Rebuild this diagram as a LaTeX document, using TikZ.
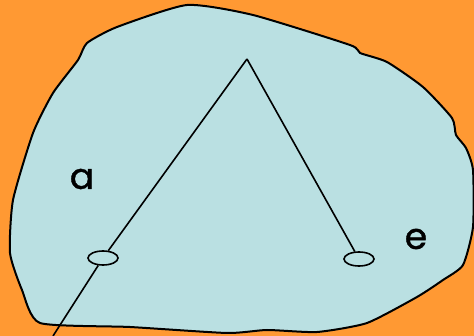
\documentclass[tikz,border=0pt]{standalone}
\usepackage{fontspec}
\newfontfamily\handfont{Poppins}[UprightFeatures={FakeBold=1.2}]
\usetikzlibrary{shapes.geometric}
\definecolor{bgorange}{RGB}{255,153,51}
\definecolor{blobblue}{RGB}{186,224,226}

\begin{document}
\begin{tikzpicture}[x=1pt,y=-1pt,line width=1.6pt,
  hole/.style={draw,ellipse,minimum width=30pt,minimum height=14pt,inner sep=0pt},
  lbl/.style={font=\handfont\fontsize{36}{36}\selectfont,inner sep=0pt}]
\fill[bgorange] (0,0) rectangle (474,336);
\useasboundingbox (0,0) rectangle (474,336);
\clip (0,0) rectangle (474,336);
\filldraw[fill=blobblue,line width=2pt] plot[smooth cycle,tension=0.35] coordinates {
  (40,323) (22,290) (10,253) (13,200) (33,133) (53,93) (78,60) (87,43)
  (117,27) (187,5) (253,15) (350,45) (360,53) (387,62) (423,87) (452,118)
  (456,135) (466,148) (473,170) (473,227) (463,265) (443,280) (417,297)
  (367,323) (317,332) (267,330) (227,333) (130,327)};
\coordinate (top) at (247,59);
\node[hole] (l) at (103,258) {};
\node[hole] (r) at (359,259) {};
\coordinate (tail) at (53,336);
\draw (top) -- (l);
\draw (top) -- (r);
\draw (l) -- (tail);
\node[lbl] (a) at (82,179) {a};
\node[lbl] (e) at (416,239) {e};
\end{tikzpicture}
\end{document}
